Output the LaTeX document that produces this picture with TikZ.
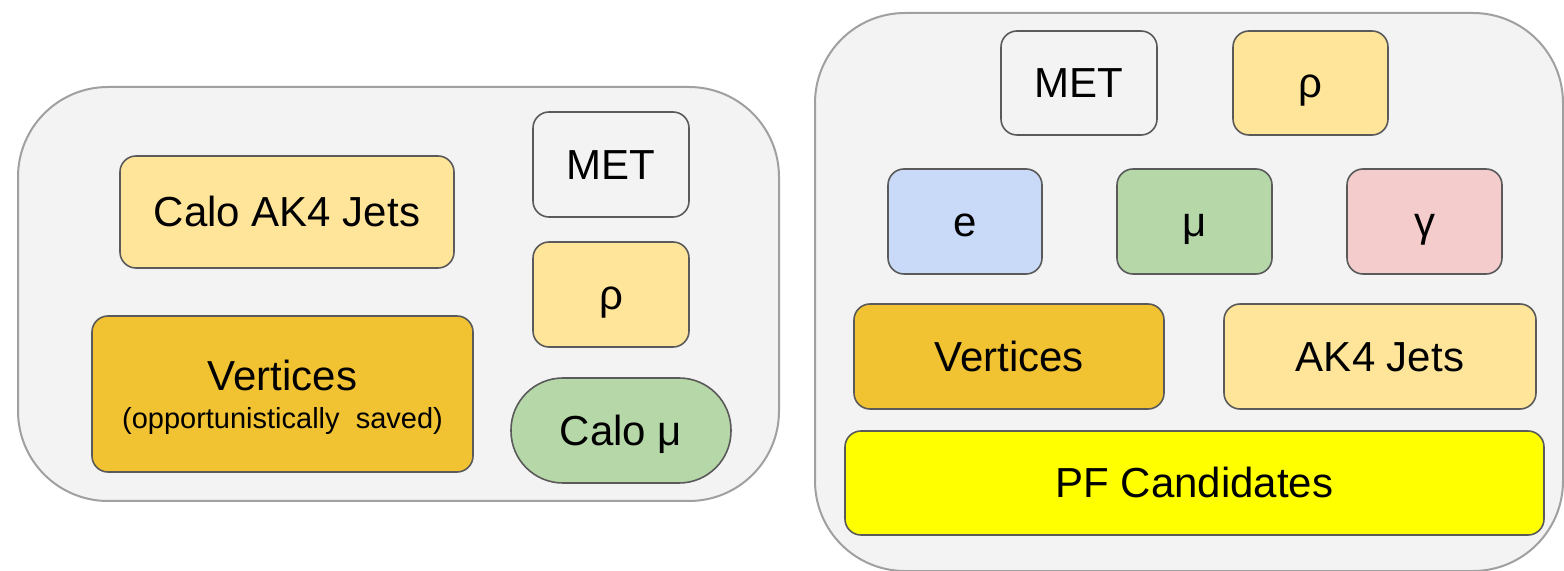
\documentclass[tikz,border=0pt]{standalone}
\usepackage{fontspec}
\setmainfont{Liberation Sans}
\definecolor{panelfill}{HTML}{F3F3F3}
\definecolor{panelline}{HTML}{A0A0A0}
\definecolor{boxline}{HTML}{5A5A5A}
\definecolor{paleyellow}{HTML}{FFE599}
\definecolor{gold}{HTML}{F1C232}
\definecolor{palegreen}{HTML}{B6D7A8}
\definecolor{paleblue}{HTML}{C9DAF8}
\definecolor{palered}{HTML}{F4CCCC}
\definecolor{brightyellow}{HTML}{FFFF00}
\tikzset{
  sz/.style 2 args={minimum width=#1*0.5pt, minimum height=#2*0.5pt},
  panel/.style={draw=panelline, fill=panelfill, line width=1pt,
    rounded corners=45pt, inner sep=0pt, outer sep=0pt},
  item/.style={draw=boxline, line width=0.8pt, rounded corners=8pt,
    inner sep=0pt, outer sep=0pt, text height=15pt, text depth=0pt,
    font=\fontsize{21}{25}\selectfont},
  note/.style={inner sep=0pt, text height=10.4pt, text depth=0pt,
    font=\fontsize{14.5}{17}\selectfont},
}
\begin{document}
\begin{tikzpicture}[x=0.5pt, y=-0.5pt]
\useasboundingbox (0,0) rectangle (1564,571);

% left panel: calorimeter-level objects
\node[panel, sz={761}{414}] (left) at (398.5,294) {};
\node[item, fill=paleyellow, sz={334}{112}] (caloJets) at (287,212) {Calo AK4 Jets};
\node[item, fill=gold, sz={381}{156}] (vtxL) at (282.5,394) {};
\node[item, draw=none, fill=none] (vtxLtitle) at (282.5,376) {Vertices};
\node[note] (vtxLnote) at (282.5,418) {(opportunistically\ \ saved)};
\node[item, fill=panelfill, sz={156}{105}] (metL) at (611,164.5) {MET};
\node[item, fill=paleyellow, sz={156}{105}] (rhoL) at (611,294.5) {ρ};
\node[item, fill=palegreen, sz={220}{105}, rounded corners=26pt] (caloMu) at (621,430.5) {Calo μ};

% right panel: particle-flow objects
\node[panel, sz={748}{558}] (right) at (1189,292) {};
\node[item, fill=panelfill, sz={156}{104}] (metR) at (1079,83) {MET};
\node[item, fill=paleyellow, sz={155}{104}] (rhoR) at (1310.5,83) {ρ};
\node[item, fill=paleblue, sz={154}{105}] (ele) at (965,221.5) {e};
\node[item, fill=palegreen, sz={155}{105}] (muo) at (1194.5,221.5) {μ};
\node[item, fill=palered, sz={155}{105}] (pho) at (1424.5,221.5) {γ};
\node[item, fill=gold, sz={310}{105}] (vtxR) at (1009,356.5) {Vertices};
\node[item, fill=paleyellow, sz={312}{105}] (jetsR) at (1380,356.5) {AK4 Jets};
\node[item, fill=brightyellow, sz={699}{104}] (pfc) at (1194.5,483) {PF Candidates};
\end{tikzpicture}
\end{document}
